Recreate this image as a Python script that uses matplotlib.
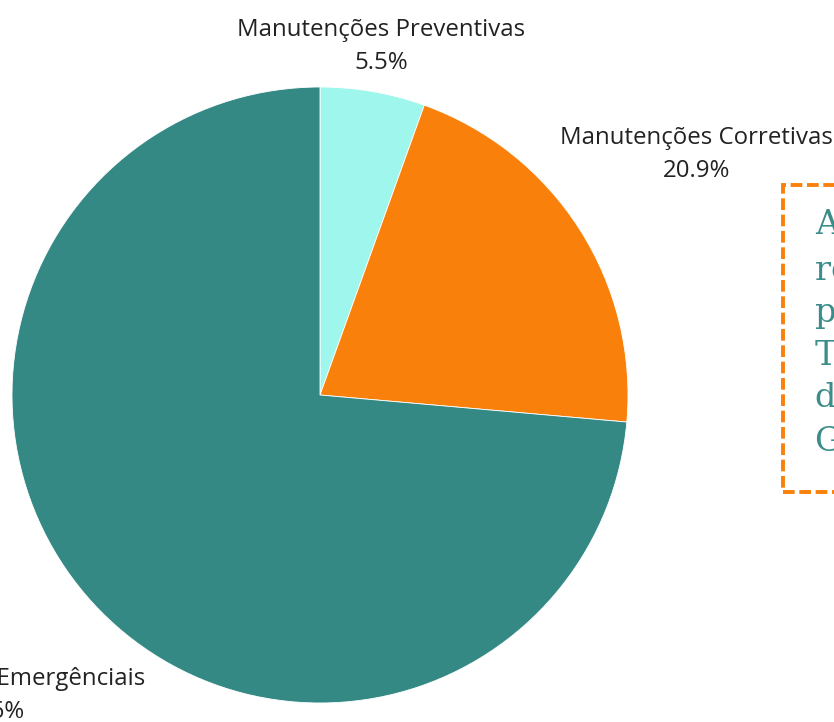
"""Pie: distribuição dos tipos de manutenção."""

import numpy as np
import matplotlib.pyplot as plt
from matplotlib.patches import Rectangle

categories = [
    "Manutenções Preventivas",
    "Manutenções Corretivas",
    "Manutenções Emergênciais",
]
shares = [5.5, 20.9, 73.6]
colors = ["#9ef6ec", "#f9800a", "#358985"]

note_lines = [
    "A maioria das manutenções",
    "realizadas foi de emergência,",
    "por falta de preventivas.",
    "Trabalhar o planejamento",
    "deve ser prioridade da",
    "Gestão de Manutenção.",
]

# radial distance of each outside label (in pie radii)
label_dist = [1.15, 1.45, 1.446]

W, H = 834, 722
R = 308.0
cx, cy = 320.0, 395.0

fig = plt.figure(figsize=(W / 100, H / 100), dpi=100)
ax = fig.add_axes([0, 0, 1, 1])

wedges, _ = ax.pie(
    shares,
    colors=colors,
    startangle=90,
    counterclock=False,
    wedgeprops=dict(linewidth=0.6, edgecolor="white"),
)

for w, label, share, d in zip(wedges, categories, shares, label_dist):
    mid = np.deg2rad((w.theta1 + w.theta2) / 2)
    ax.text(
        d * np.cos(mid),
        d * np.sin(mid),
        f"{label}\n{share:.1f}%",
        ha="center",
        va="center",
        fontsize=17.3,
        family="Open Sans",
        color="#222222",
        linespacing=1.5,
    )

ax.set_xlim(-cx / R, (W - cx) / R)
ax.set_ylim(-(H - cy) / R, cy / R)
ax.set_aspect("equal")
ax.axis("off")

# dashed note box, cut by the right edge
fig.patches.append(
    Rectangle(
        (783 / W, 1 - 492 / H),
        0.5,
        (492 - 185) / H,
        transform=fig.transFigure,
        fill=False,
        edgecolor="#f9800a",
        linewidth=2.8,
        linestyle=(0, (3, 1.2)),
    )
)
fig.text(
    815 / W,
    1 - 208 / H,
    "\n".join(note_lines),
    ha="left",
    va="top",
    fontsize=24,
    family="DejaVu Serif",
    color="#3a8d89",
    linespacing=1.42,
)

fig.savefig("out.png", dpi=100)
